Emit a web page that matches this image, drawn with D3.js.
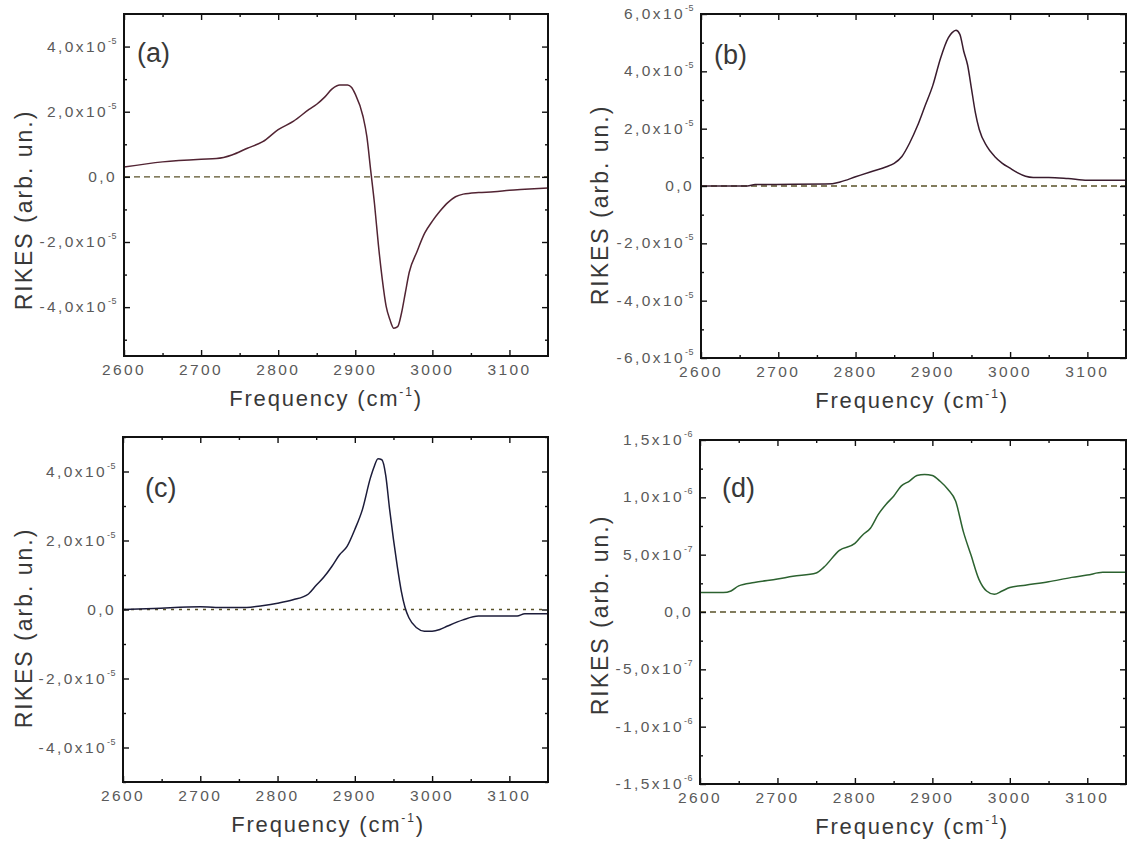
<!DOCTYPE html>
<html>
<head>
<meta charset="utf-8">
<script src="https://cdn.jsdelivr.net/npm/d3@7"></script>
<style>
  html, body { margin: 0; padding: 0; background: #fff; }
  svg { display: block; }
</style>
</head>
<body>
<svg id="chart" width="1128" height="842"></svg>
<script>
// ---------------- DATA ----------------
const freqTicks = [2600, 2700, 2800, 2900, 3000, 3100];
const freqMinor = [2650, 2750, 2850, 2950, 3050];
const freqTickLabels = ["2600", "2700", "2800", "2900", "3000", "3100"];

// Panel (a) : values in units of 1e-5
const freqA = [2600, 2650, 2700, 2720, 2740, 2760, 2780, 2800, 2820, 2840, 2850, 2860, 2870, 2880, 2890, 2895, 2900, 2910, 2915, 2920, 2925, 2930, 2935, 2940, 2945, 2950, 2955, 2960, 2965, 2970, 2980, 2990, 3000, 3010, 3020, 3030, 3040, 3060, 3080, 3100, 3120, 3150];
const rikesA = [0.30, 0.46, 0.54, 0.56, 0.67, 0.88, 1.08, 1.45, 1.71, 2.07, 2.23, 2.44, 2.70, 2.82, 2.82, 2.75, 2.54, 1.86, 1.24, 0.20, -0.84, -2.09, -3.14, -3.97, -4.39, -4.65, -4.60, -4.18, -3.55, -2.93, -2.30, -1.73, -1.36, -1.05, -0.79, -0.61, -0.53, -0.48, -0.46, -0.41, -0.38, -0.34];
const yTicksA = [-4, -2, 0, 2, 4];
const yMinorA = [-5, -3, -1, 1, 3];
const yMantA = ["-4,0", "-2,0", "0,0", "2,0", "4,0"];
const yExpA = ["-5", "-5", "", "-5", "-5"];

// Panel (b)
const freqB = [2600, 2660, 2670, 2770, 2780, 2800, 2820, 2840, 2850, 2860, 2870, 2880, 2890, 2900, 2910, 2920, 2925, 2930, 2935, 2940, 2945, 2950, 2955, 2960, 2970, 2980, 2990, 3000, 3010, 3020, 3030, 3050, 3075, 3100, 3150];
const rikesB = [0.00, 0.00, 0.05, 0.08, 0.14, 0.32, 0.50, 0.67, 0.79, 1.03, 1.50, 2.09, 2.80, 3.51, 4.46, 5.17, 5.35, 5.43, 5.29, 4.70, 4.22, 3.40, 2.57, 1.98, 1.38, 1.03, 0.79, 0.62, 0.46, 0.34, 0.30, 0.30, 0.26, 0.20, 0.20];
const yTicksB = [-6, -4, -2, 0, 2, 4, 6];
const yMinorB = [-5, -3, -1, 1, 3, 5];
const yMantB = ["-6,0", "-4,0", "-2,0", "0,0", "2,0", "4,0", "6,0"];
const yExpB = ["-5", "-5", "-5", "", "-5", "-5", "-5"];

// Panel (c)
const freqC = [2600, 2640, 2700, 2720, 2760, 2780, 2800, 2820, 2840, 2850, 2860, 2870, 2880, 2890, 2900, 2910, 2920, 2925, 2930, 2935, 2940, 2945, 2950, 2955, 2960, 2965, 2970, 2980, 2990, 3000, 3010, 3020, 3040, 3060, 3080, 3110, 3120, 3150];
const rikesC = [0.00, 0.03, 0.08, 0.06, 0.06, 0.11, 0.18, 0.28, 0.45, 0.70, 0.94, 1.24, 1.58, 1.83, 2.32, 2.91, 3.80, 4.14, 4.37, 4.34, 3.89, 2.91, 2.03, 1.24, 0.55, 0.06, -0.24, -0.53, -0.63, -0.63, -0.58, -0.48, -0.30, -0.19, -0.19, -0.19, -0.12, -0.12];
const yTicksC = [-4, -2, 0, 2, 4];
const yMinorC = [-5, -3, -1, 1, 3, 5];
const yMantC = ["-4,0", "-2,0", "0,0", "2,0", "4,0"];
const yExpC = ["-5", "-5", "", "-5", "-5"];

// Panel (d) : values in units of 1e-6
const freqD = [2600, 2630, 2640, 2650, 2670, 2700, 2720, 2750, 2760, 2780, 2800, 2810, 2820, 2830, 2840, 2850, 2860, 2870, 2880, 2890, 2900, 2910, 2920, 2930, 2940, 2950, 2960, 2970, 2980, 2990, 3000, 3020, 3050, 3080, 3100, 3120, 3150];
const rikesD = [0.169, 0.169, 0.183, 0.228, 0.257, 0.287, 0.311, 0.340, 0.391, 0.538, 0.598, 0.672, 0.731, 0.849, 0.938, 1.010, 1.100, 1.140, 1.190, 1.200, 1.190, 1.140, 1.070, 0.967, 0.701, 0.494, 0.287, 0.183, 0.154, 0.183, 0.213, 0.234, 0.263, 0.302, 0.322, 0.346, 0.346];
const yTicksD = [-1.5, -1.0, -0.5, 0, 0.5, 1.0, 1.5];
const yMinorD = [-1.25, -0.75, -0.25, 0.25, 0.75, 1.25];
const yMantD = ["-1,5", "-1,0", "-5,0", "0,0", "5,0", "1,0", "1,5"];
const yExpD = ["-6", "-6", "-7", "", "-7", "-6", "-6"];

const panelLabels = ["(a)", "(b)", "(c)", "(d)"];
const xTitle = "Frequency (cm";
const xTitleSup = "-1";
const yTitle = "RIKES (arb. un.)";

// ---------------- LAYOUT ----------------
const panels = [
  { name: panelLabels[0], freq: freqA, vals: rikesA, yDom: [-5.5, 5], yT: yTicksA, yM: yMinorA, mant: yMantA, exp: yExpA,
    box: { l: 124, r: 548, t: 14, b: 356 }, color: "#522433", dash: "6,4", lab: [137, 62], yty: 210, ytx: 26, xtx: 326 },
  { name: panelLabels[1], freq: freqB, vals: rikesB, yDom: [-6, 6], yT: yTicksB, yM: yMinorB, mant: yMantB, exp: yExpB,
    box: { l: 701, r: 1126, t: 14, b: 358 }, color: "#3a1c2e", dash: "6,4", lab: [714, 64], yty: 205, ytx: 602, xtx: 912 },
  { name: panelLabels[2], freq: freqC, vals: rikesC, yDom: [-5, 5], yT: yTicksC, yM: yMinorC, mant: yMantC, exp: yExpC,
    box: { l: 123, r: 548, t: 437, b: 782 }, color: "#1c1c3a", dash: "3,5", lab: [145, 497], yty: 628, ytx: 26, xtx: 328 },
  { name: panelLabels[3], freq: freqD, vals: rikesD, yDom: [-1.5, 1.5], yT: yTicksD, yM: yMinorD, mant: yMantD, exp: yExpD,
    box: { l: 700, r: 1126, t: 440, b: 784 }, color: "#2c6230", dash: "6,4", lab: [722, 497], yty: 615, ytx: 602, xtx: 912 }
];

const svg = d3.select("#chart");
const FONT = "'Liberation Sans', Arial, sans-serif";

panels.forEach(p => {
  const { l, r, t, b } = p.box;
  const x = d3.scaleLinear().domain([2600, 3150]).range([l, r]);
  const y = d3.scaleLinear().domain(p.yDom).range([b, t]);
  const g = svg.append("g");

  // zero dashed line
  g.append("line")
    .attr("x1", x(2600)).attr("x2", x(3150))
    .attr("y1", y(0)).attr("y2", y(0))
    .attr("stroke", "#5a5228").attr("stroke-width", 1.3)
    .attr("stroke-dasharray", p.dash);

  // curve
  const line = d3.line().x(d => x(d[0])).y(d => y(d[1])).curve(d3.curveMonotoneX);
  g.append("path")
    .datum(p.freq.map((f, i) => [f, p.vals[i]]))
    .attr("d", line)
    .attr("fill", "none")
    .attr("stroke", p.color)
    .attr("stroke-width", 1.5);

  // axes (ticks inward)
  const styleAxis = sel => {
    sel.selectAll(".domain").remove();
    sel.selectAll("line").attr("stroke", "#111").attr("stroke-width", 1.4);
  };
  g.append("g").attr("transform", `translate(0,${b})`)
    .call(d3.axisBottom(x).tickValues(freqTicks).tickSize(-6).tickFormat("")).call(styleAxis);
  g.append("g").attr("transform", `translate(0,${b})`)
    .call(d3.axisBottom(x).tickValues(freqMinor).tickSize(-3).tickFormat("")).call(styleAxis);
  g.append("g").attr("transform", `translate(0,${t})`)
    .call(d3.axisTop(x).tickValues(freqTicks).tickSize(-6).tickFormat("")).call(styleAxis);
  g.append("g").attr("transform", `translate(0,${t})`)
    .call(d3.axisTop(x).tickValues(freqMinor).tickSize(-3).tickFormat("")).call(styleAxis);
  g.append("g").attr("transform", `translate(${l},0)`)
    .call(d3.axisLeft(y).tickValues(p.yT).tickSize(-6).tickFormat("")).call(styleAxis);
  g.append("g").attr("transform", `translate(${l},0)`)
    .call(d3.axisLeft(y).tickValues(p.yM).tickSize(-3).tickFormat("")).call(styleAxis);
  g.append("g").attr("transform", `translate(${r},0)`)
    .call(d3.axisRight(y).tickValues(p.yT).tickSize(-6).tickFormat("")).call(styleAxis);
  g.append("g").attr("transform", `translate(${r},0)`)
    .call(d3.axisRight(y).tickValues(p.yM).tickSize(-3).tickFormat("")).call(styleAxis);

  // frame
  g.append("rect")
    .attr("x", l).attr("y", t).attr("width", r - l).attr("height", b - t)
    .attr("fill", "none").attr("stroke", "#111").attr("stroke-width", 2);

  // x tick labels
  g.selectAll(".xl").data(freqTicks).enter().append("text")
    .attr("x", d => x(d)).attr("y", b + 19)
    .attr("text-anchor", "middle")
    .attr("font-family", FONT).attr("font-size", 15.5).attr("letter-spacing", 2.4)
    .attr("fill", "#5a5a5a")
    .text((d, i) => freqTickLabels[i]);

  // y tick labels
  p.yT.forEach((v, i) => {
    const tx = g.append("text")
      .attr("x", l - 7).attr("y", y(v) + 5)
      .attr("text-anchor", "end")
      .attr("font-family", FONT).attr("font-size", 15.5).attr("letter-spacing", 2.4)
      .attr("fill", "#5a5a5a");
    if (p.exp[i] === "") {
      tx.text(p.mant[i]);
    } else {
      tx.append("tspan").text(p.mant[i] + "x10");
      tx.append("tspan").attr("dy", -8).attr("font-size", 9).attr("letter-spacing", 0.5).text(p.exp[i]);
    }
  });

  // x title
  const xt = g.append("text")
    .attr("x", p.xtx).attr("y", b + 50)
    .attr("text-anchor", "middle")
    .attr("font-family", FONT).attr("font-size", 22).attr("letter-spacing", 1.8)
    .attr("fill", "#383838");
  xt.append("tspan").text(xTitle);
  xt.append("tspan").attr("dy", -10).attr("font-size", 12).text(xTitleSup);
  xt.append("tspan").attr("dy", 10).text(")");

  // y title
  g.append("text")
    .attr("transform", `translate(${p.ytx},${p.yty}) rotate(-90)`)
    .attr("text-anchor", "middle").attr("dominant-baseline", "middle")
    .attr("font-family", FONT).attr("font-size", 23).attr("letter-spacing", 2)
    .attr("fill", "#383838")
    .text(yTitle);

  // panel label
  g.append("text")
    .attr("x", p.lab[0]).attr("y", p.lab[1])
    .attr("font-family", FONT).attr("font-size", 27)
    .attr("fill", "#383838")
    .text(p.name);
});
</script>
</body>
</html>
